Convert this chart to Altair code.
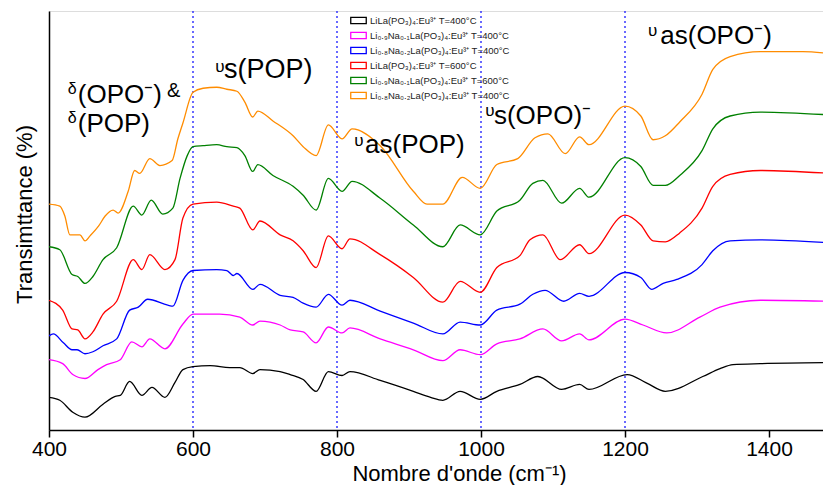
import altair as alt
import pandas as pd

# ---- series names (legend order) ----
names = [
    "LiLa(PO₃)₄:Eu³⁺ T=400°C",
    "Li₀.₉Na₀.₁La(PO₃)₄:Eu³⁺ T=400°C",
    "Li₀.₈Na₀.₂La(PO₃)₄:Eu³⁺ T=400°C",
    "LiLa(PO₃)₄:Eu³⁺ T=600°C",
    "Li₀.₉Na₀.₁La(PO₃)₄:Eu³⁺ T=600°C",
    "Li₀.₈Na₀.₂La(PO₃)₄:Eu³⁺ T=400°C ",
]
colors = ["#000000", "#ff00ff", "#0000ff", "#ff0000", "#008000", "#ff8c00"]

# ---- spectra (wavenumber, arbitrary offset transmittance) ----
wn_black = [400, 415, 433, 450, 475, 492, 499, 512, 529, 543, 561, 575, 586, 600, 624, 651, 665, 683, 693, 721, 735,
            753, 771, 788, 807, 818, 860, 906, 930, 947, 971, 999, 1022, 1054, 1079, 1112, 1137, 1150, 1203, 1231,
            1256, 1308, 1332, 1350, 1388, 1486]
t_black = [33, 30, 18, 13, 26, 34, 35, 49, 35, 43, 33, 48, 61, 64, 65, 63, 63, 57, 61, 59, 56,
           51, 39, 59, 55, 59, 50, 39, 33, 30, 39, 31, 39, 46, 54, 41, 46, 41, 56, 47,
           39, 54, 62, 66, 67, 68]

wn_mag = [400, 419, 433, 450, 468, 480, 499, 515, 529, 540, 561, 586, 600, 637, 665, 683, 693, 721, 735, 753, 771,
          788, 807, 818, 860, 906, 947, 971, 999, 1022, 1054, 1086, 1112, 1137, 1150, 1200, 1225, 1258, 1304, 1332,
          1388, 1486]
t_mag = [71, 67, 56, 52, 61, 66, 71, 89, 84, 92, 82, 107, 117, 117, 114, 106, 110, 106, 101, 99, 88,
         104, 98, 103, 92, 81, 70, 81, 76, 87, 92, 102, 90, 97, 91, 112, 106, 98, 114, 124,
         131, 130]

wn_blue = [400, 406, 420, 432, 439, 450, 461, 475, 494, 512, 524, 537, 565, 572, 586, 600, 633, 647, 656, 661, 683,
           693, 721, 739, 753, 771, 788, 807, 818, 860, 906, 947, 971, 999, 1022, 1054, 1072, 1089, 1115, 1137,
           1150, 1200, 1222, 1237, 1253, 1272, 1307, 1322, 1346, 1388, 1486]
t_blue = [95, 97, 88, 81, 81, 77, 79, 85, 92, 121, 124, 132, 126, 125, 151, 161, 162, 161, 156, 158, 142,
          147, 136, 134, 128, 124, 137, 126, 131, 120, 108, 97, 109, 106, 121, 127, 137, 141, 130, 138,
          135, 159, 154, 142, 148, 152, 167, 181, 191, 192, 189]

wn_red = [400, 419, 432, 440, 450, 461, 475, 494, 517, 529, 540, 561, 575, 586, 600, 633, 656, 665, 683, 693, 721,
          739, 753, 771, 788, 807, 818, 860, 906, 947, 971, 999, 1022, 1054, 1068, 1086, 1110, 1137, 1150, 1200,
          1222, 1239, 1256, 1276, 1307, 1322, 1346, 1388, 1486]
t_red = [131, 121, 102, 101, 92, 99, 117, 130, 172, 162, 177, 162, 172, 214, 228, 230, 226, 224, 202, 211, 197,
         191, 181, 164, 196, 183, 193, 177, 154, 129, 150, 139, 164, 176, 192, 197, 172, 187, 178, 217,
         207, 191, 190, 199, 224, 246, 258, 262, 259]

wn_green = [400, 415, 432, 440, 450, 461, 475, 494, 517, 529, 542, 558, 572, 582, 592, 600, 614, 633, 647, 661, 672,
            683, 690, 711, 739, 753, 771, 788, 807, 821, 860, 906, 947, 971, 999, 1022, 1054, 1072, 1086, 1112,
            1137, 1150, 1200, 1222, 1239, 1256, 1276, 1307, 1322, 1346, 1388, 1486]
t_green = [185, 182, 157, 155, 148, 155, 172, 184, 226, 217, 232, 218, 224, 254, 277, 286, 287, 288, 286, 285, 277,
           261, 268, 257, 246, 237, 222, 254, 241, 251, 234, 207, 185, 207, 197, 221, 232, 249, 252, 229,
           244, 235, 275, 266, 247, 247, 257, 282, 304, 317, 321, 318]

wn_orange = [400, 415, 422, 429, 443, 450, 457, 469, 478, 489, 496, 510, 519, 526, 540, 554, 571, 579, 586, 600, 614,
             633, 647, 661, 672, 683, 690, 711, 739, 753, 771, 788, 807, 821, 860, 906, 925, 947, 974, 999,
             1022, 1051, 1075, 1093, 1117, 1137, 1150, 1200, 1222, 1239, 1256, 1276, 1307, 1322, 1346, 1388, 1447,
             1486]
t_orange = [228, 226, 216, 197, 197, 191, 196, 206, 216, 222, 219, 241, 262, 259, 274, 267, 272, 294, 310, 341, 345,
            346, 344, 342, 331, 316, 322, 312, 297, 286, 277, 308, 294, 304, 287, 241, 228, 228, 255, 244,
            268, 274, 295, 299, 279, 296, 288, 327, 317, 293, 297, 311, 339, 364, 377, 382, 382,
            380]

series = [
    (wn_black, t_black), (wn_mag, t_mag), (wn_blue, t_blue),
    (wn_red, t_red), (wn_green, t_green), (wn_orange, t_orange),
]
rows = []
for name, (w, t) in zip(names, series):
    for a, b in zip(w, t):
        rows.append({"wn": a, "T": b, "sample": name})
df = pd.DataFrame(rows)

# ---- reference lines ----
vlines = [600, 800, 1000, 1200]
df_v = pd.DataFrame({"wn": vlines})

# ---- annotations ----
ann_text = ["δ", "(OPO⁻)", "&", "δ", "(POP)", "υ", "s(POP)", "υ", "as(POP)", "υ", "s(OPO)⁻", "υ", "as(OPO⁻)"]
ann_x = [426, 440, 564, 426, 440, 631, 643, 824, 839, 1006, 1018, 1232, 1249]
ann_y = [339, 330, 336, 310, 301, 361, 355, 287, 280, 317, 309, 398, 390]
ann_size = [16, 26, 20, 16, 26, 17, 27, 17, 26, 17, 26, 17, 26]
df_a = pd.DataFrame({"wn": ann_x, "T": ann_y, "text": ann_text, "size": ann_size})

xticks = [400, 600, 800, 1000, 1200, 1400]
FONT = "Liberation Sans"

xscale = alt.Scale(domain=[400, 1475], nice=False, zero=False)
yscale = alt.Scale(domain=[0, 423], range=[419, 0], nice=False, zero=False)

lines = alt.Chart(df).mark_line(strokeWidth=1.3, interpolate="monotone", clip=True).encode(
    x=alt.X("wn:Q", scale=xscale,
            axis=alt.Axis(values=xticks, format="d", title="Nombre d'onde (cm⁻¹)", grid=False,
                          domainColor="black", domainWidth=1.5, tickColor="black", tickWidth=1.5,
                          tickSize=7, labelFont=FONT, labelFontSize=21, labelColor="black",
                          labelPadding=1, labelFlush=False, titleFont=FONT, titleFontSize=22,
                          titleFontWeight="normal", titleColor="black",
                          titleX=410, titleY=50, titleBaseline="alphabetic")),
    y=alt.Y("T:Q", scale=yscale,
            axis=alt.Axis(labels=False, ticks=False, grid=False, title="Transimttance (%)",
                          domainColor="black", domainWidth=1.5, titleFont=FONT, titleFontSize=22,
                          titleFontWeight="normal", titleColor="black",
                          titleX=-25, titleY=203, titleBaseline="middle", titleAngle=270)),
    color=alt.Color("sample:N", scale=alt.Scale(domain=names, range=colors),
                    legend=alt.Legend(title=None, orient="none", legendX=301, legendY=1,
                                      symbolType="M-1,-0.4H1V0.4H-1Z", symbolSize=240,
                                      symbolStrokeWidth=1.3, symbolFillColor="white",
                                      labelFont=FONT, labelFontSize=9.5, labelColor="#222",
                                      labelLimit=400, rowPadding=0, labelOffset=3)),
    detail="sample:N",
)

rules = alt.Chart(df_v).mark_rule(color="#2a2aff", strokeWidth=1.4, strokeDash=[2, 3]).encode(
    x=alt.X("wn:Q", scale=xscale)
)

texts = alt.Chart(df_a).mark_text(align="left", baseline="alphabetic", font=FONT, color="black").encode(
    x=alt.X("wn:Q", scale=xscale),
    y=alt.Y("T:Q", scale=yscale),
    text="text:N",
    size=alt.Size("size:Q", scale=None, legend=None),
)

chart = alt.layer(rules, lines, texts).properties(
    width=774, height=419,
    padding={"left": 41, "top": 3, "right": 0, "bottom": 55},
    autosize=alt.AutoSizeParams(type="none"),
).configure_view(stroke=None).configure(background="white")

chart.save("out.html", embed_options={"renderer": "svg", "actions": False})
